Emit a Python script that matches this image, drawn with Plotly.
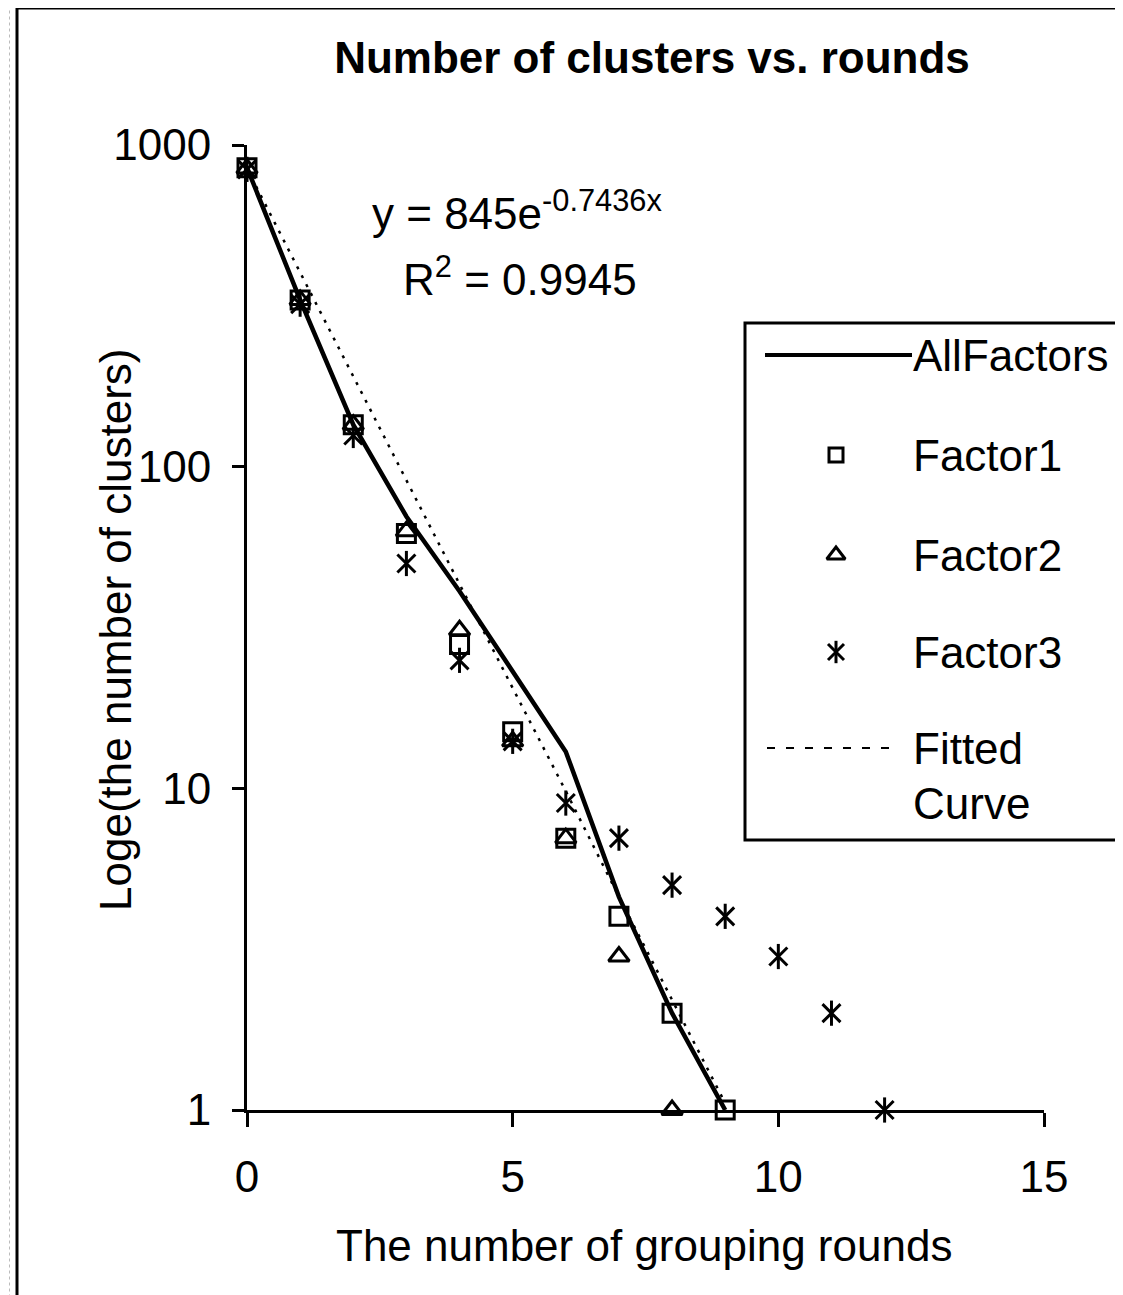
import plotly.graph_objects as go

# ---- data ----
rounds_all = [0, 1, 2, 3, 4, 5, 6, 7, 8, 9]
all_factors = [850, 330, 135, 70, 41, 23, 13, 4.6, 2, 1]

rounds_f1 = [0, 1, 2, 3, 4, 5, 6, 7, 8, 9]
factor1 = [850, 330, 135, 62, 28, 15, 7, 4, 2, 1]

rounds_f2 = [0, 1, 2, 3, 4, 5, 6, 7, 8]
factor2 = [845, 330, 135, 63, 31, 14, 7, 3, 1]

rounds_f3 = [0, 1, 2, 3, 4, 5, 6, 7, 8, 9, 10, 11, 12]
factor3 = [840, 320, 125, 50, 25, 14, 9, 7, 5, 4, 3, 2, 1]

# fitted curve y = 845 e^(-0.7436 x), values as drawn in the chart
rounds_fit = [0, 1, 2, 3, 4, 5, 6, 7, 8, 9]
fitted = [845, 401, 191, 91, 43, 20.5, 9.8, 4.6, 2.2, 1.05]

x_ticks = [0, 5, 10, 15]
y_ticks = [1, 10, 100, 1000]
y_ticktext = ["1", "10", "100", "1000"]

title_text = "Number of clusters vs. rounds"
x_title = "The number of grouping rounds"
y_title = "Loge(the number of clusters)"
eq_text = "y = 845e<sup>-0.7436x</sup>"
r2_text = "R<sup>2</sup> = 0.9945"
legend_names = ["AllFactors", "Factor1", "Factor2", "Factor3", "Fitted", "Curve"]

FONT = "Liberation Sans, Arial, sans-serif"
FS = 44
OFF = 8                      # page body margin
W, H = 1123 - OFF, 1295 - OFF
PLOT_L, PLOT_R, PLOT_T, PLOT_B = 247, 1044, 145, 1110   # screen pixels
L = PLOT_L - OFF
T = PLOT_T - OFF
R = OFF + W - PLOT_R
B = OFF + H - PLOT_B
PW = PLOT_R - PLOT_L
PH = PLOT_B - PLOT_T


def px(X):
    return (X - PLOT_L) / PW


def py(Y):
    return (PLOT_B - Y) / PH


fig = go.Figure()

fig.add_trace(go.Scatter(x=rounds_fit, y=fitted, mode="lines",
                         line=dict(color="black", width=2.5, dash="3px,7px"),
                         showlegend=False, cliponaxis=False, name="Fitted Curve"))
fig.add_trace(go.Scatter(x=rounds_all, y=all_factors, mode="lines",
                         line=dict(color="black", width=4.5),
                         showlegend=False, cliponaxis=False, name="AllFactors"))
fig.add_trace(go.Scatter(x=rounds_f1, y=factor1, mode="markers",
                         marker=dict(symbol="square-open", size=18, color="black",
                                     line=dict(width=3, color="black")),
                         showlegend=False, cliponaxis=False, name="Factor1"))
fig.add_trace(go.Scatter(x=rounds_f2, y=factor2, mode="markers",
                         marker=dict(symbol="triangle-up-open", size=18, color="black",
                                     line=dict(width=3, color="black")),
                         showlegend=False, cliponaxis=False, name="Factor2"))
fig.add_trace(go.Scatter(x=rounds_f3, y=factor3, mode="markers",
                         marker=dict(symbol="x-thin-open", size=18, color="black",
                                     line=dict(width=3, color="black")),
                         showlegend=False, cliponaxis=False, name="Factor3"))
fig.add_trace(go.Scatter(x=rounds_f3, y=factor3, mode="markers",
                         marker=dict(symbol="line-ns-open", size=18, color="black",
                                     line=dict(width=3, color="black")),
                         showlegend=False, cliponaxis=False, hoverinfo="skip"))

# legend sample markers on an overlay axis in paper-like units
leg_x = px(836)
leg_rows = [py(355), py(455), py(555), py(652), py(748), py(803)]
fig.add_trace(go.Scatter(x=[leg_x], y=[leg_rows[1]], mode="markers", xaxis="x2", yaxis="y2",
                         marker=dict(symbol="square-open", size=14, color="black",
                                     line=dict(width=3, color="black")),
                         showlegend=False, cliponaxis=False, hoverinfo="skip"))
fig.add_trace(go.Scatter(x=[leg_x], y=[leg_rows[2]], mode="markers", xaxis="x2", yaxis="y2",
                         marker=dict(symbol="triangle-up-open", size=16, color="black",
                                     line=dict(width=3, color="black")),
                         showlegend=False, cliponaxis=False, hoverinfo="skip"))
for sym in ["x-thin-open", "line-ns-open"]:
    fig.add_trace(go.Scatter(x=[leg_x], y=[leg_rows[3]], mode="markers", xaxis="x2", yaxis="y2",
                             marker=dict(symbol=sym, size=16, color="black",
                                         line=dict(width=3, color="black")),
                             showlegend=False, cliponaxis=False, hoverinfo="skip"))

shapes = [
    # outer frame
    dict(type="rect", xref="paper", yref="paper", x0=px(17), x1=1.3, y0=-0.3, y1=py(8),
         line=dict(color="black", width=3), fillcolor="rgba(0,0,0,0)"),
    # faint dotted edge
    dict(type="line", xref="paper", yref="paper", x0=px(9.5), x1=px(9.5), y0=-0.3, y1=1.3,
         line=dict(color="#bbbbbb", width=1, dash="3px,3px")),
    # legend box
    dict(type="rect", xref="paper", yref="paper", x0=px(745), x1=1.3, y0=py(840), y1=py(323),
         line=dict(color="black", width=3), fillcolor="white", layer="below"),
    # legend samples
    dict(type="line", xref="paper", yref="paper", x0=px(765), x1=px(912), y0=leg_rows[0], y1=leg_rows[0],
         line=dict(color="black", width=4)),
    dict(type="line", xref="paper", yref="paper", x0=px(767), x1=px(900), y0=leg_rows[4], y1=leg_rows[4],
         line=dict(color="black", width=2, dash="8px,11px")),
]

ann = []
font = dict(family=FONT, size=FS, color="black")
for name, yy in zip(legend_names, leg_rows):
    ann.append(dict(text=name, xref="paper", yref="paper", x=px(911), y=yy,
                    xanchor="left", yanchor="middle", showarrow=False, font=font))
ann.append(dict(text=eq_text, xref="paper", yref="paper", x=px(370), y=py(210),
                xanchor="left", yanchor="middle", showarrow=False, font=font))
ann.append(dict(text=r2_text, xref="paper", yref="paper", x=px(401), y=py(276),
                xanchor="left", yanchor="middle", showarrow=False, font=font))
ann.append(dict(text=x_title, xref="paper", yref="paper", x=px(644), y=py(1245),
                xanchor="center", yanchor="middle", showarrow=False, font=font))
ann.append(dict(text=y_title, xref="paper", yref="paper", x=px(115), y=py(630),
                xanchor="center", yanchor="middle", showarrow=False, font=font, textangle=-90))

fig.update_layout(
    width=W, height=H,
    margin=dict(l=L, r=R, t=T, b=B, autoexpand=False),
    paper_bgcolor="white", plot_bgcolor="white",
    title=dict(text="<b>" + title_text + "</b>", x=px(652), xref="paper", xanchor="center",
               y=1 - (58 - OFF) / H, yref="container", yanchor="middle",
               font=dict(family=FONT, size=FS, color="black")),
    font=font,
    shapes=shapes,
    annotations=ann,
    showlegend=False,
    xaxis=dict(range=[0, 15], tickvals=x_ticks, showgrid=False, zeroline=False,
               showline=True, linecolor="black", linewidth=3,
               ticks="outside", ticklen=14, tickwidth=3, tickcolor="black",
               ticklabelstandoff=12, tickfont=font),
    yaxis=dict(type="log", range=[0, 3], tickvals=y_ticks, ticktext=y_ticktext,
               showgrid=False, zeroline=False,
               showline=True, linecolor="black", linewidth=3,
               ticks="outside", ticklen=12, tickwidth=3, tickcolor="black",
               ticklabelstandoff=12, tickfont=font),
    xaxis2=dict(overlaying="x", range=[0, 1], visible=False),
    yaxis2=dict(overlaying="y", range=[0, 1], visible=False),
)

fig.write_html("out.html")
